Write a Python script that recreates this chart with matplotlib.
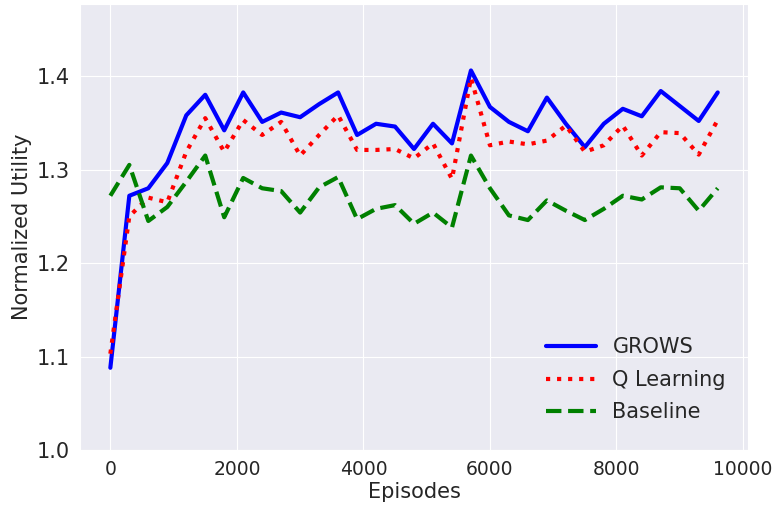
import numpy as np
import matplotlib
matplotlib.use("Agg")
import matplotlib.pyplot as plt
import seaborn as sns

episodes = list(range(0, 9601, 300))

grows = [1.088, 1.272, 1.280, 1.307, 1.358, 1.380, 1.342, 1.3825, 1.351,
         1.361, 1.356, 1.370, 1.3825, 1.337, 1.349, 1.346, 1.322,
         1.349, 1.328, 1.406, 1.367, 1.351, 1.341, 1.377, 1.349,
         1.324, 1.349, 1.365, 1.357, 1.384, 1.368, 1.352, 1.3825]

q_learning = [1.103, 1.250, 1.270, 1.265, 1.319, 1.355, 1.319, 1.353, 1.337,
              1.351, 1.315, 1.337, 1.358, 1.321, 1.321, 1.322, 1.312,
              1.328, 1.290, 1.398, 1.326, 1.330, 1.327, 1.331, 1.347,
              1.319, 1.326, 1.347, 1.315, 1.340, 1.339, 1.316, 1.353]

baseline = [1.272, 1.305, 1.245, 1.260, 1.287, 1.315, 1.249, 1.291, 1.280,
            1.277, 1.254, 1.281, 1.292, 1.247, 1.258, 1.262, 1.242,
            1.254, 1.238, 1.315, 1.280, 1.251, 1.246, 1.267, 1.256,
            1.246, 1.258, 1.272, 1.268, 1.281, 1.280, 1.256, 1.280]

sns.set_style("darkgrid")
plt.rcParams['font.family'] = ['DejaVu Sans']

fig = plt.figure(figsize=(7.72, 5.12), dpi=100)
ax = fig.add_axes([0.1036, 0.121, 0.8654, 0.871])

ax.plot(episodes, grows, color='blue', lw=3, linestyle='-', label='GROWS')
ax.plot(episodes, q_learning, color='red', lw=3, linestyle=':', label='Q Learning')
ax.plot(episodes, baseline, color='green', lw=3, linestyle='--', label='Baseline')

ax.set_ylim(1.0, 1.477)
ax.set_yticks([1.0, 1.1, 1.2, 1.3, 1.4])
ax.set_xticks([0, 2000, 4000, 6000, 8000, 10000])
ax.tick_params(axis='y', labelsize=15, colors='.15')
ax.tick_params(axis='x', labelsize=13.5, colors='.15')
ax.set_xlabel('Episodes', fontsize=15, color='.15', labelpad=2)
ax.set_ylabel('Normalized Utility', fontsize=15, color='.15', labelpad=4)

leg = ax.legend(loc='lower right', fontsize=15, frameon=False,
                bbox_to_anchor=(0.995, 0.02), handlelength=2.4,
                labelspacing=0.6, handletextpad=0.8)
for t in leg.get_texts():
    t.set_color('.15')

fig.savefig('out.png', dpi=100)
